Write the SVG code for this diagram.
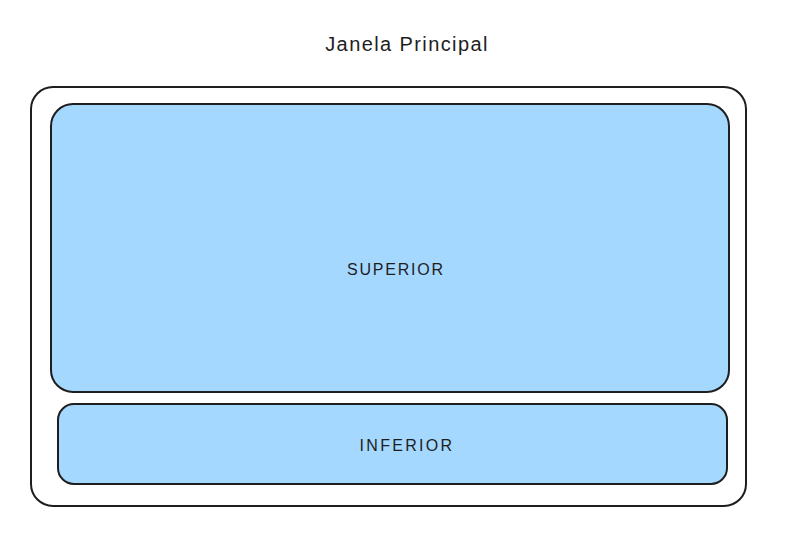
<svg xmlns="http://www.w3.org/2000/svg" width="785" height="533" viewBox="0 0 785 533">
<style>
.box{fill:#a5d8ff;stroke:#1e1e1e;stroke-width:2}
.frame{fill:#ffffff;stroke:#1e1e1e;stroke-width:2}
.lbl{font-family:"Liberation Sans",Arial,sans-serif;fill:#1e1e1e;text-anchor:middle;dominant-baseline:central}
</style>
<rect width="785" height="533" fill="#ffffff"/>
<g id="title"><text class="lbl" x="407" y="44" font-size="20" letter-spacing="1.4">Janela Principal</text></g>
<g id="janela"><rect class="frame" x="31" y="87" width="715" height="419" rx="22"/></g>
<g id="superior"><rect class="box" x="51" y="104" width="678" height="288" rx="22"/><text class="lbl" x="396" y="269" font-size="16" letter-spacing="1.8">SUPERIOR</text></g>
<g id="inferior"><rect class="box" x="58" y="404" width="669" height="80" rx="16"/><text class="lbl" x="407" y="445" font-size="16" letter-spacing="2.3">INFERIOR</text></g>
<g id="connectors"></g>
</svg>
